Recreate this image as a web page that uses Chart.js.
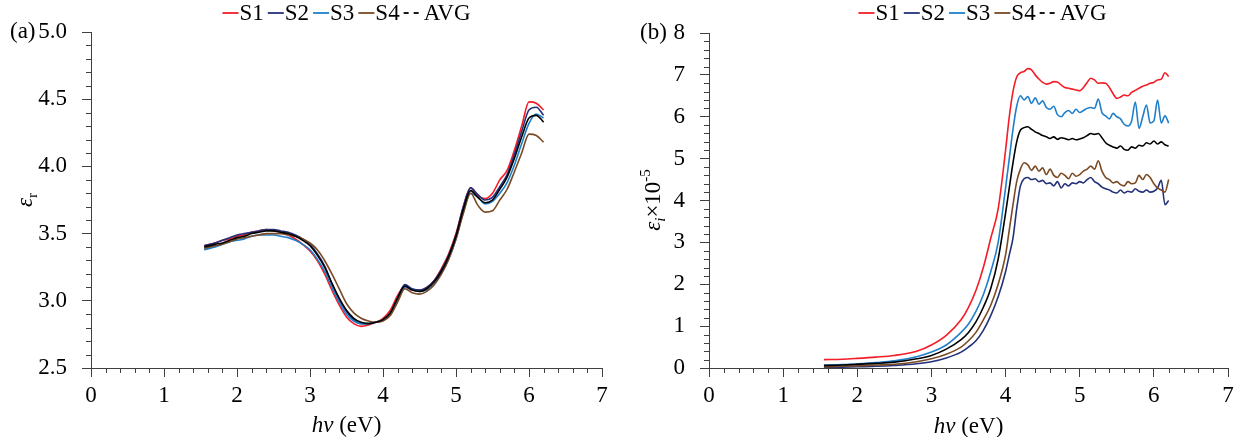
<!DOCTYPE html>
<html>
<head>
<meta charset="utf-8">
<script src="https://cdn.jsdelivr.net/npm/chart.js@4.4.1/dist/chart.umd.min.js"></script>
<style>
  html, body { margin: 0; padding: 0; background: #fff; }
  #wrap { position: relative; width: 1237px; height: 437px; }
  .panel { position: absolute; top: 0; height: 437px; }
  #panelA { left: 0; width: 620px; }
  #panelB { left: 620px; width: 617px; }
</style>
</head>
<body>
<div id="wrap">
  <div class="panel" id="panelA"><canvas id="chartA"></canvas></div>
  <div class="panel" id="panelB"><canvas id="chartB"></canvas></div>
</div>
<script>
// ---------- data ----------
const seriesNames = ["S1", "S2", "S3", "S4", "AVG"];
const seriesColors = ["#f41c26", "#24327a", "#1f7fca", "#7a4a24", "#000000"];

// (a) real part, eps_r
const energyA = [1.55, 1.7, 1.8, 1.9, 2.0, 2.1, 2.2, 2.3, 2.4, 2.5, 2.6, 2.7, 2.8, 2.9, 3.0, 3.1, 3.2, 3.3, 3.4, 3.5,
  3.6, 3.7, 3.8, 3.9, 4.0, 4.1, 4.2, 4.3, 4.4, 4.5, 4.6, 4.7, 4.8, 4.9, 5.0, 5.1, 5.2, 5.3, 5.4, 5.5,
  5.6, 5.7, 5.8, 5.9, 6.0, 6.1, 6.2];
const epsR_S1 = [3.41, 3.43, 3.45, 3.46, 3.48, 3.49, 3.51, 3.52, 3.53, 3.52, 3.51, 3.49, 3.46, 3.42, 3.37, 3.30, 3.20, 3.08, 2.97, 2.88,
  2.83, 2.81, 2.82, 2.84, 2.87, 2.93, 3.04, 3.11, 3.08, 3.08, 3.10, 3.15, 3.24, 3.35, 3.50, 3.70, 3.84, 3.78, 3.76, 3.80,
  3.90, 3.97, 4.12, 4.30, 4.48, 4.47, 4.42];
const epsR_S2 = [3.41, 3.43, 3.45, 3.47, 3.49, 3.50, 3.51, 3.52, 3.53, 3.53, 3.52, 3.51, 3.49, 3.46, 3.42, 3.35, 3.26, 3.13, 3.01, 2.92,
  2.86, 2.83, 2.83, 2.84, 2.86, 2.91, 3.02, 3.12, 3.09, 3.08, 3.10, 3.15, 3.23, 3.34, 3.49, 3.70, 3.84, 3.79, 3.75, 3.77,
  3.85, 3.94, 4.09, 4.26, 4.42, 4.44, 4.38];
const epsR_S3 = [3.38, 3.40, 3.42, 3.44, 3.45, 3.46, 3.48, 3.49, 3.49, 3.49, 3.48, 3.47, 3.45, 3.42, 3.38, 3.31, 3.22, 3.10, 2.99, 2.90,
  2.85, 2.83, 2.83, 2.84, 2.86, 2.90, 3.00, 3.10, 3.08, 3.07, 3.08, 3.12, 3.20, 3.31, 3.46, 3.66, 3.80, 3.77, 3.72, 3.74,
  3.80, 3.88, 4.01, 4.17, 4.32, 4.39, 4.36];
const epsR_S4 = [3.39, 3.41, 3.42, 3.44, 3.46, 3.47, 3.48, 3.49, 3.50, 3.50, 3.50, 3.49, 3.48, 3.46, 3.43, 3.38, 3.30, 3.20, 3.09, 2.98,
  2.91, 2.87, 2.85, 2.84, 2.85, 2.89, 2.99, 3.09, 3.06, 3.05, 3.07, 3.12, 3.20, 3.31, 3.46, 3.65, 3.80, 3.71, 3.66, 3.67,
  3.75, 3.83, 3.96, 4.10, 4.24, 4.23, 4.18];
const epsR_AVG = [3.40, 3.42, 3.43, 3.45, 3.47, 3.48, 3.50, 3.51, 3.52, 3.52, 3.51, 3.50, 3.48, 3.45, 3.41, 3.34, 3.25, 3.13, 3.02, 2.93,
  2.87, 2.84, 2.83, 2.84, 2.86, 2.91, 3.02, 3.11, 3.08, 3.07, 3.09, 3.14, 3.22, 3.33, 3.48, 3.68, 3.82, 3.77, 3.73, 3.75,
  3.83, 3.92, 4.06, 4.22, 4.36, 4.38, 4.33];

// (b) imaginary part, eps_i x 10^-5
const energyB = [1.55, 1.8, 2.0, 2.25, 2.5, 2.8, 3.0, 3.2, 3.4, 3.5, 3.6, 3.7, 3.8, 3.9, 4.0, 4.05, 4.1, 4.15, 4.2,
  4.25, 4.3, 4.35, 4.4, 4.45, 4.5, 4.55, 4.6, 4.65, 4.7, 4.75, 4.8, 4.85, 4.9, 4.95, 5.0, 5.05, 5.1, 5.15, 5.2,
  5.25, 5.3, 5.35, 5.4, 5.45, 5.5, 5.55, 5.6, 5.65, 5.7, 5.75, 5.8, 5.85, 5.9, 5.95, 6.0, 6.05, 6.1, 6.15, 6.2];
const epsI_S1 = [0.2, 0.21, 0.23, 0.26, 0.3, 0.4, 0.55, 0.78, 1.15, 1.45, 1.85, 2.4, 3.1, 3.8, 5.2, 6.0, 6.6, 6.95, 7.05,
  7.08, 7.15, 7.12, 7.0, 6.9, 6.82, 6.78, 6.8, 6.84, 6.83, 6.76, 6.7, 6.68, 6.66, 6.64, 6.62, 6.7, 6.82, 6.92, 6.88,
  6.8, 6.81, 6.8, 6.7, 6.55, 6.44, 6.47, 6.52, 6.5, 6.58, 6.63, 6.68, 6.73, 6.76, 6.8, 6.82, 6.88, 6.9, 7.05, 6.96];
const epsI_S2 = [0.01, 0.02, 0.03, 0.04, 0.06, 0.1, 0.15, 0.24, 0.38, 0.5, 0.65, 0.9, 1.25, 1.7, 2.3, 2.7, 3.1, 3.8, 4.35,
  4.52, 4.55, 4.5, 4.52, 4.45, 4.48, 4.4, 4.42, 4.35, 4.45, 4.3, 4.4, 4.35, 4.42, 4.4, 4.45, 4.42, 4.5, 4.55, 4.45,
  4.4, 4.32, 4.28, 4.25, 4.2, 4.18, 4.25, 4.18, 4.22, 4.2, 4.28, 4.22, 4.2, 4.25, 4.2, 4.22, 4.3, 4.48, 3.9, 4.0];
const epsI_S3 = [0.07, 0.08, 0.1, 0.13, 0.17, 0.27, 0.38, 0.55, 0.85, 1.05, 1.35, 1.75, 2.3, 3.0, 4.3, 5.0, 5.7, 6.25, 6.5,
  6.4, 6.48, 6.32, 6.45, 6.3, 6.38, 6.22, 6.18, 6.25, 6.05, 6.0, 6.1, 6.15, 6.08, 6.18, 6.1, 6.15, 6.2, 6.22, 6.2,
  6.42, 6.1, 6.02, 5.95, 6.08, 6.0, 5.95, 5.82, 5.78, 5.9, 6.35, 5.72, 6.0, 6.28, 5.85, 5.9, 6.4, 5.85, 6.02, 5.85];
const epsI_S4 = [0.03, 0.04, 0.05, 0.07, 0.09, 0.15, 0.22, 0.33, 0.5, 0.65, 0.85, 1.15, 1.5, 2.0, 2.7, 3.3, 3.9, 4.45, 4.75,
  4.9, 4.85, 4.72, 4.82, 4.7, 4.78, 4.62, 4.75, 4.6, 4.55, 4.65, 4.6, 4.52, 4.65, 4.58, 4.62, 4.7, 4.75, 4.82, 4.75,
  4.95, 4.7, 4.55, 4.5, 4.42, 4.45, 4.38, 4.35, 4.45, 4.4, 4.42, 4.6, 4.5, 4.62, 4.55, 4.4, 4.3, 4.25, 4.2, 4.5];
const epsI_AVG = [0.06, 0.07, 0.09, 0.11, 0.14, 0.22, 0.3, 0.45, 0.68, 0.85, 1.1, 1.45, 1.9, 2.6, 3.7, 4.3, 4.9, 5.4, 5.68,
  5.74, 5.76, 5.7, 5.64, 5.6, 5.55, 5.52, 5.48, 5.52, 5.46, 5.5, 5.48, 5.45, 5.48, 5.45, 5.47, 5.5, 5.55, 5.6, 5.58,
  5.6, 5.5, 5.38, 5.32, 5.28, 5.25, 5.3, 5.22, 5.2, 5.28, 5.25, 5.32, 5.3, 5.38, 5.35, 5.42, 5.35, 5.4, 5.33, 5.3];

// ---------- helpers ----------
const FONT = '"Liberation Serif", "DejaVu Serif", serif';
const FS = 23;
const AXIS = "#404040";

function toPoints(xs, ys) {
  return xs.map((x, i) => ({ x: x, y: ys[i] }));
}

function makeDatasets(xs, list) {
  // excel draws the later series on top, so AVG gets the lowest order
  return list.map((ys, i) => ({
    label: seriesNames[i],
    data: toPoints(xs, ys),
    borderColor: seriesColors[i],
    backgroundColor: seriesColors[i],
    borderWidth: 1.6,
    pointRadius: 0,
    fill: false,
    cubicInterpolationMode: "monotone",
    order: list.length - i
  }));
}

function drawRich(ctx, segs, cx, cy, angle) {
  ctx.save();
  ctx.translate(cx, cy);
  ctx.rotate(angle);
  ctx.textBaseline = "alphabetic";
  ctx.textAlign = "left";
  ctx.fillStyle = "#000";
  const fontOf = s => (s.italic ? "italic " : "") + (s.pos ? Math.round(FS * 0.66) : FS) + "px " + FONT;
  const widths = segs.map(s => { ctx.font = fontOf(s); return ctx.measureText(s.text).width; });
  let x = -widths.reduce((a, b) => a + b, 0) / 2;
  segs.forEach((s, i) => {
    ctx.font = fontOf(s);
    let dy = 0;
    if (s.pos === "sub") dy = FS * 0.25;
    if (s.pos === "sup") dy = -FS * 0.4;
    ctx.fillText(s.text, x, FS * 0.33 + dy);
    x += widths[i];
  });
  ctx.restore();
}

// minor ticks, panel tag, axis titles and legend
const decorPlugin = {
  id: "decor",
  afterDraw(chart, args, o) {
    const { ctx, chartArea, scales } = chart;
    const xs = scales.x, ys = scales.y;
    ctx.save();
    ctx.strokeStyle = AXIS;
    ctx.lineWidth = 1;
    const nx = Math.round((xs.max - xs.min) / o.xMinor);
    for (let k = 0; k <= nx; k++) {
      if (k % o.xEvery === 0) continue;
      const px = Math.round(xs.getPixelForValue(xs.min + k * o.xMinor)) + 0.5;
      ctx.beginPath();
      ctx.moveTo(px, chartArea.bottom);
      ctx.lineTo(px, chartArea.bottom + 5);
      ctx.stroke();
    }
    const ny = Math.round((ys.max - ys.min) / o.yMinor);
    for (let k = 0; k <= ny; k++) {
      if (k % o.yEvery === 0) continue;
      const py = Math.round(ys.getPixelForValue(ys.min + k * o.yMinor)) + 0.5;
      ctx.beginPath();
      ctx.moveTo(chartArea.left, py);
      ctx.lineTo(chartArea.left - 5, py);
      ctx.stroke();
    }
    ctx.restore();

    // panel tag
    ctx.save();
    ctx.font = FS + "px " + FONT;
    ctx.fillStyle = "#000";
    ctx.textBaseline = "middle";
    ctx.textAlign = "left";
    ctx.fillText(o.tag, o.tagX, ys.getPixelForValue(ys.max));
    ctx.restore();

    // axis titles
    drawRich(ctx, o.yTitle, o.yTitleX, o.yTitleY, -Math.PI / 2);
    drawRich(ctx, [{ text: "h\u03BD", italic: true }, { text: " (eV)" }],
      (chartArea.left + chartArea.right) / 2, o.xTitleY, 0);

    // legend
    ctx.save();
    ctx.font = FS + "px " + FONT;
    ctx.textBaseline = "middle";
    const lineW = 16, gap = 1, spacing = 4;
    const items = seriesNames.map((name, i) => ({ name, color: seriesColors[i], w: lineW + gap + ctx.measureText(name).width }));
    const total = items.reduce((a, it) => a + it.w, 0) + spacing * (items.length - 1);
    let x = o.legendX - total / 2;
    items.forEach(it => {
      ctx.strokeStyle = it.color;
      ctx.lineWidth = 1.8;
      const isAvg = it.name === "AVG";
      ctx.setLineDash(isAvg ? [5, 5] : []);
      ctx.beginPath();
      ctx.moveTo(x, o.legendY);
      ctx.lineTo(x + (isAvg ? 15 : lineW), o.legendY);
      ctx.stroke();
      ctx.setLineDash([]);
      ctx.fillStyle = "#000";
      ctx.fillText(it.name, x + lineW + gap + (isAvg ? 3 : 0), o.legendY + 1);
      x += it.w + spacing;
    });
    ctx.restore();
  }
};

function axisOpts(min, max, step, fmt, pad, fit) {
  return {
    type: "linear",
    min: min,
    max: max,
    ticks: { stepSize: step, color: "#000", font: { family: FONT, size: FS }, padding: pad, maxRotation: 0, callback: fmt },
    grid: { drawOnChartArea: false, drawTicks: true, tickLength: 9, color: AXIS },
    border: { display: true, color: AXIS, width: 1 },
    afterFit: fit
  };
}

function makeChart(id, xs, list, yMin, yMax, yStep, yFmt, pad, decor) {
  const xFit = s => { s.height = 69; s.paddingLeft = 6; s.paddingRight = 6; };
  const yFit = s => { s.width = pad.yWidth; };
  return new Chart(document.getElementById(id), {
    type: "line",
    data: { datasets: makeDatasets(xs, list) },
    options: {
      responsive: true,
      maintainAspectRatio: false,
      animation: false,
      events: [],
      layout: { padding: { top: pad.top, right: pad.right, bottom: 0, left: 0 } },
      plugins: { legend: { display: false }, tooltip: { enabled: false }, decor: decor },
      scales: {
        x: Object.assign(axisOpts(0, 7, 1, v => String(v), 5, xFit), { position: "bottom" }),
        y: Object.assign(axisOpts(yMin, yMax, yStep, yFmt, 15, yFit), { position: "left" })
      }
    },
    plugins: [decorPlugin]
  });
}

const chartA = makeChart("chartA", energyA, [epsR_S1, epsR_S2, epsR_S3, epsR_S4, epsR_AVG],
  2.5, 5.0, 0.5, v => v.toFixed(1),
  { top: 32, right: 18, yWidth: 91 },
  {
    tag: "(a)", tagX: 10, xMinor: 0.2, xEvery: 5, yMinor: 0.1, yEvery: 5,
    yTitle: [{ text: "\u03B5", italic: true }, { text: "r", pos: "sub" }],
    yTitleX: 24, yTitleY: 200, xTitleY: 424, legendX: 345, legendY: 13
  });

const chartB = makeChart("chartB", energyB, [epsI_S1, epsI_S2, epsI_S3, epsI_S4, epsI_AVG],
  0, 8, 1, v => String(v),
  { top: 33, right: 9, yWidth: 89 },
  {
    tag: "(b)", tagX: 20, xMinor: 0.2, xEvery: 5, yMinor: 0.2, yEvery: 5,
    yTitle: [{ text: "\u03B5", italic: true }, { text: "i", pos: "sub", italic: true }, { text: "\u00D710" }, { text: "-5", pos: "sup" }],
    yTitleX: 32, yTitleY: 200, xTitleY: 425, legendX: 361, legendY: 13
  });
</script>
</body>
</html>
